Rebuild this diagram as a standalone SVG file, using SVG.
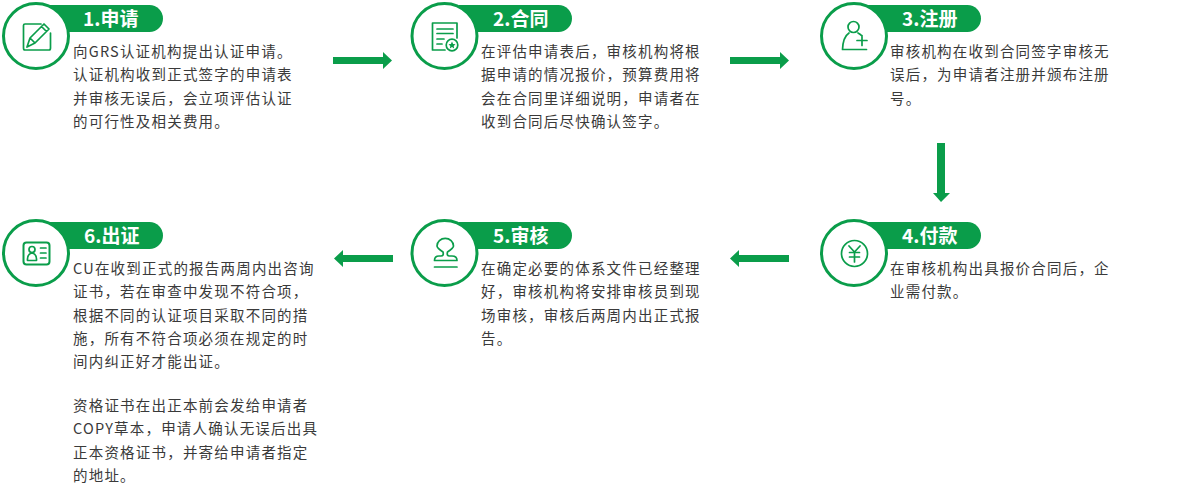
<svg xmlns="http://www.w3.org/2000/svg" width="1200" height="500" viewBox="0 0 1200 500">
<style>
.ring{fill:#fff;stroke:#0a9d4a;stroke-width:3}
.pill{fill:#0a9d4a}
.ttl{font:700 19px "Noto Sans CJK SC","Noto Sans",sans-serif;fill:#fff}
.txt{font:400 14.5px "Noto Sans CJK SC","Noto Sans",sans-serif;fill:#3a3a3a;letter-spacing:1.2px}
.ic{fill:none;stroke:#0a9d4a;stroke-width:1.7;stroke-linejoin:round;stroke-linecap:round}
.arr{fill:#0a9d4a}
</style>
<rect width="1200" height="500" fill="#fff"/>
<g id="connectors">
<path class="arr" d="M333 57H383V52L392 60.5L383 69V64H333Z"/>
<path class="arr" d="M730 57H780V52L789 60.5L780 69V64H730Z"/>
<path class="arr" d="M937 143H945V193H950L941 202L933 193H937Z"/>
<path class="arr" d="M789 255H739V250L730 258.5L739 267V262H789Z"/>
<path class="arr" d="M393 255H343V250L334 258.5L343 267V262H393Z"/>
</g>
<g id="node1">
<path class="pill" d="M50 5H149.500A13.500 13.500 0 0 1 149.500 32H50Z"/>
<circle class="ring" cx="36" cy="36" r="32.500"/>
<path class="ic" d="M41 24H25Q23.500 24 23.500 25.500V48Q23.500 50 25 50H49Q50.500 50 50.500 48V33"/>
<path class="ic" d="M27 47L30 38L44 24L49 29L35 43ZM30 38L35 43M41.500 26.500L46.500 31.500"/>
<text class="ttl" x="83" y="25.500">1.申请</text>
<text class="txt" x="73" y="57">向GRS认证机构提出认证申请。</text>
<text class="txt" x="73" y="80">认证机构收到正式签字的申请表</text>
<text class="txt" x="73" y="104">并审核无误后，会立项评估认证</text>
<text class="txt" x="73" y="127">的可行性及相关费用。</text>
</g>
<g id="node2">
<path class="pill" d="M459 5H558.500A13.500 13.500 0 0 1 558.500 32H459Z"/>
<circle class="ring" cx="444.500" cy="36" r="32.500"/>
<path class="ic" d="M445 50H432.500V23H457V38M437 29H453M437 33.500H453M437 39H444M437 44H442"/>
<circle class="ic" cx="452" cy="45" r="5.800"/>
<path d="M452 41.500L453.100 43.900L455.500 44.200L453.700 45.900L454.200 48.400L452 47.100L449.800 48.400L450.300 45.900L448.500 44.200L450.900 43.900Z" fill="#0a9d4a"/>
<text class="ttl" x="493" y="25.500">2.合同</text>
<text class="txt" x="481" y="57">在评估申请表后，审核机构将根</text>
<text class="txt" x="481" y="80">据申请的情况报价，预算费用将</text>
<text class="txt" x="481" y="104">会在合同里详细说明，申请者在</text>
<text class="txt" x="481" y="127">收到合同后尽快确认签字。</text>
</g>
<g id="node3">
<path class="pill" d="M868 5H967.500A13.500 13.500 0 0 1 967.500 32H868Z"/>
<circle class="ring" cx="854" cy="36" r="32.500"/>
<circle class="ic" cx="853.500" cy="27" r="5.500"/>
<path class="ic" d="M849 33Q843 37 842.500 49.500H866.500M858 33Q860 34 862 36M857 40.500H867M862 35.500V45.500"/>
<text class="ttl" x="902" y="25.500">3.注册</text>
<text class="txt" x="890" y="57">审核机构在收到合同签字审核无</text>
<text class="txt" x="890" y="80">误后，为申请者注册并颁布注册</text>
<text class="txt" x="890" y="104">号。</text>
</g>
<g id="node4">
<path class="pill" d="M868 222H967.500A13.500 13.500 0 0 1 967.500 249H868Z"/>
<circle class="ring" cx="854" cy="253" r="32.500"/>
<circle class="ic" cx="854.500" cy="253.500" r="13"/>
<path class="ic" d="M849 246L854.500 252L860 246M854.500 252V262M849.500 252.500H859.500M849.500 257H859.500"/>
<text class="ttl" x="902" y="242.500">4.付款</text>
<text class="txt" x="890" y="274">在审核机构出具报价合同后，企</text>
<text class="txt" x="890" y="297">业需付款。</text>
</g>
<g id="node5">
<path class="pill" d="M459 222H558.500A13.500 13.500 0 0 1 558.500 249H459Z"/>
<circle class="ring" cx="444.500" cy="253" r="32.500"/>
<path class="ic" d="M434.500 260.500Q434.500 256 439 256H441Q444 256 443 252Q437 248 437 246A8.200 7.500 0 0 1 453.500 246Q453.500 248 447.500 252Q446.500 256 449.500 256H452Q457 256 457 260.500Z"/>
<path class="ic" d="M434.500 267H457" stroke-width="2"/>
<text class="ttl" x="493" y="242.500">5.审核</text>
<text class="txt" x="481" y="274">在确定必要的体系文件已经整理</text>
<text class="txt" x="481" y="297">好，审核机构将安排审核员到现</text>
<text class="txt" x="481" y="321">场审核，审核后两周内出正式报</text>
<text class="txt" x="481" y="344">告。</text>
</g>
<g id="node6">
<path class="pill" d="M50 222H149.500A13.500 13.500 0 0 1 149.500 249H50Z"/>
<circle class="ring" cx="36" cy="253" r="32.500"/>
<rect class="ic" x="23.500" y="242.500" width="26" height="22" rx="3" style="stroke-width:2"/>
<circle class="ic" cx="32" cy="249.500" r="3"/>
<path class="ic" d="M27.500 260.500Q27 254 32 253Q37 254 36.500 260.500ZM40.500 248H46M40.500 253H46M40.500 258H46"/>
<text class="ttl" x="84" y="242.500">6.出证</text>
<text class="txt" x="73" y="274">CU在收到正式的报告两周内出咨询</text>
<text class="txt" x="73" y="297">证书，若在审查中发现不符合项，</text>
<text class="txt" x="73" y="321">根据不同的认证项目采取不同的措</text>
<text class="txt" x="73" y="344">施，所有不符合项必须在规定的时</text>
<text class="txt" x="73" y="367">间内纠正好才能出证。</text>
<text class="txt" x="73" y="411">资格证书在出正本前会发给申请者</text>
<text class="txt" x="73" y="434">COPY草本，申请人确认无误后出具</text>
<text class="txt" x="73" y="458">正本资格证书，并寄给申请者指定</text>
<text class="txt" x="73" y="481">的地址。</text>
</g>
</svg>
